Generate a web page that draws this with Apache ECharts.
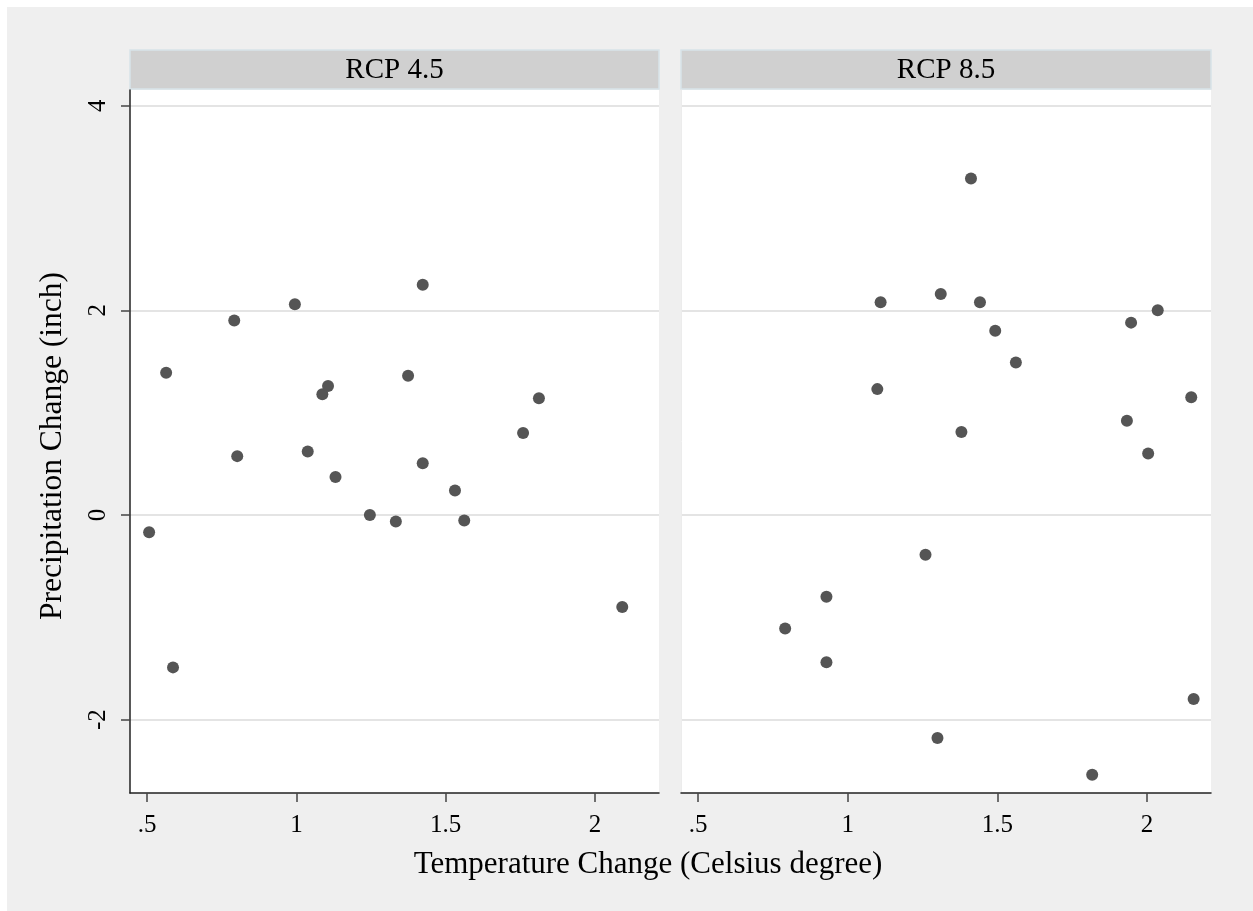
<!DOCTYPE html>
<html>
<head>
<meta charset="utf-8">
<script src="https://cdn.jsdelivr.net/npm/echarts@6/dist/echarts.min.js"></script>
<style>
html,body{margin:0;padding:0;background:#fff;}
#chart{width:1253px;height:911px;}
</style>
</head>
<body>
<div id="chart"></div>
<script>
// ---- data ----
const panelTitles = ['RCP 4.5', 'RCP 8.5'];
const rcp45Temp   = [0.507, 0.564, 0.587, 0.792, 0.802, 0.995, 1.038, 1.087, 1.106, 1.131, 1.246, 1.333, 1.374, 1.423, 1.423, 1.531, 1.562, 1.759, 1.812, 2.091];
const rcp45Precip = [-0.17, 1.39, -1.49, 1.90, 0.575, 2.06, 0.62, 1.18, 1.26, 0.37, 0.0, -0.065, 1.36, 2.25, 0.505, 0.24, -0.055, 0.80, 1.14, -0.90];
const rcp85Temp   = [0.791, 0.929, 0.929, 1.099, 1.110, 1.260, 1.300, 1.311, 1.380, 1.412, 1.442, 1.493, 1.562, 1.817, 1.933, 1.947, 2.004, 2.036, 2.148, 2.156];
const rcp85Precip = [-1.11, -0.80, -1.44, 1.23, 2.08, -0.39, -2.18, 2.16, 0.81, 3.29, 2.08, 1.80, 1.49, -2.54, 0.92, 1.88, 0.60, 2.00, 1.15, -1.80];
const xTicks = [0.5, 1, 1.5, 2];
const xTickLabels = ['.5', '1', '1.5', '2'];
const yTicks = [-2, 0, 2, 4];
const yTickLabels = ['-2', '0', '2', '4'];
const xTitle = 'Temperature Change (Celsius degree)';
const yTitle = 'Precipitation Change (inch)';

// ---- chart ----
const FONT = 'Liberation Serif';
const chart = echarts.init(document.getElementById('chart'), null, {renderer: 'canvas'});

const grids = [
  {left: 130, top: 90, width: 529, height: 703},
  {left: 681, top: 90, width: 530, height: 703}
];
const xMin = 0.443, xMax = 2.214, yMin = -2.718, yMax = 4.154;

function pairs(xs, ys) { return xs.map((x, i) => [x, ys[i]]); }

const xAxes = grids.map((g, i) => ({
  type: 'value', gridIndex: i, min: xMin, max: xMax,
  axisLine: {show: true, onZero: false, lineStyle: {color: '#222', width: 1.5}},
  axisTick: {show: true, length: 9, lineStyle: {color: '#444', width: 1.5}, customValues: xTicks},
  axisLabel: {show: false, customValues: xTicks},
  splitLine: {show: false}
}));

const yAxes = grids.map((g, i) => ({
  type: 'value', gridIndex: i, min: yMin, max: yMax,
  axisLine: {show: true, onZero: false, lineStyle: {color: i === 0 ? '#222' : '#ececec', width: i === 0 ? 1.5 : 1}},
  axisTick: {show: i === 0, length: 9, lineStyle: {color: '#444', width: 1.5}, customValues: yTicks},
  axisLabel: {show: false, customValues: yTicks},
  splitLine: {show: true, lineStyle: {color: '#e4e4e4', width: 2}}
}));

chart.setOption({
  animation: false,
  backgroundColor: '#ffffff',
  grid: grids.map(g => Object.assign({show: true, backgroundColor: '#ffffff', borderWidth: 0, containLabel: false}, g)),
  xAxis: xAxes,
  yAxis: yAxes,
  series: [
    {type: 'scatter', xAxisIndex: 0, yAxisIndex: 0, data: pairs(rcp45Temp, rcp45Precip),
      symbol: 'circle', symbolSize: 12, itemStyle: {color: '#555555', opacity: 1}},
    {type: 'scatter', xAxisIndex: 1, yAxisIndex: 1, data: pairs(rcp85Temp, rcp85Precip),
      symbol: 'circle', symbolSize: 12, itemStyle: {color: '#555555', opacity: 1}}
  ]
});

// decorations + tick labels positioned through the library's own scales
const tickFont = '25px "' + FONT + '"';
const graphics = [
  {type: 'rect', z: -10, silent: true, shape: {x: 7, y: 7, width: 1246, height: 904}, style: {fill: '#efefef'}},
  {type: 'text', silent: true, x: 648, y: 865,
    style: {text: xTitle, font: '31px "' + FONT + '"', fill: '#000', textAlign: 'center', textVerticalAlign: 'middle'}},
  {type: 'text', silent: true, x: 53, y: 446, rotation: Math.PI / 2,
    style: {text: yTitle, font: '31.5px "' + FONT + '"', fill: '#000', textAlign: 'center', textVerticalAlign: 'middle'}}
];
grids.forEach((g, i) => {
  graphics.push({type: 'rect', silent: true, shape: {x: g.left, y: 50, width: g.width, height: 39},
    style: {fill: '#d0d0d0', stroke: '#d8e3e9', lineWidth: 1.5}});
  graphics.push({type: 'text', silent: true, x: g.left + g.width / 2, y: 70,
    style: {text: panelTitles[i], font: '29px "' + FONT + '"', fill: '#000', textAlign: 'center', textVerticalAlign: 'middle'}});
  xTicks.forEach((v, k) => {
    const p = chart.convertToPixel({xAxisIndex: i, yAxisIndex: i}, [v, yMin]);
    graphics.push({type: 'text', silent: true, x: p[0], y: p[1] + 32,
      style: {text: xTickLabels[k], font: tickFont, fill: '#000', textAlign: 'center', textVerticalAlign: 'middle'}});
  });
});
yTicks.forEach((v, k) => {
  const p = chart.convertToPixel({xAxisIndex: 0, yAxisIndex: 0}, [xMin, v]);
  graphics.push({type: 'text', silent: true, x: p[0] - 32, y: p[1], rotation: Math.PI / 2,
    style: {text: yTickLabels[k], font: tickFont, fill: '#000', textAlign: 'center', textVerticalAlign: 'middle'}});
});
chart.setOption({graphic: graphics});
</script>
</body>
</html>
